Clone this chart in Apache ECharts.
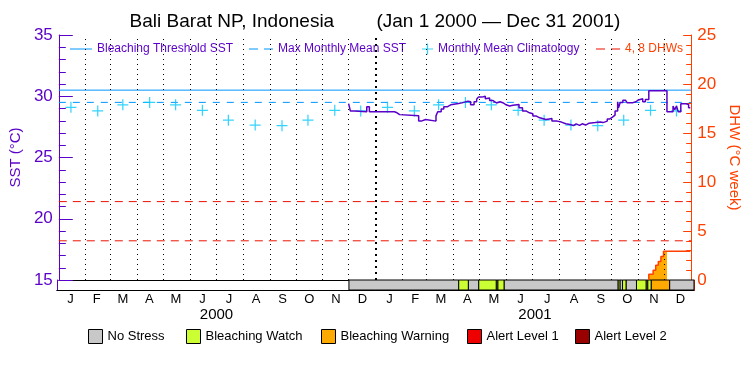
<!DOCTYPE html>
<html>
<head>
<meta charset="utf-8">
<script src="https://cdn.jsdelivr.net/npm/echarts@6/dist/echarts.min.js"></script>
<style>
  html, body { margin: 0; padding: 0; background: #fff; }
  #chart { width: 750px; height: 375px; }
</style>
</head>
<body>
<div id="chart"></div>
<script>
// --- data ---
const mmm = 29.5
const bleachingThreshold = 30.5
const dhwLevels = [4, 8]

const climDates = [
  '2000-01-15', '2000-02-15', '2000-03-15', '2000-04-15', '2000-05-15', '2000-06-15',
  '2000-07-15', '2000-08-15', '2000-09-15', '2000-10-15', '2000-11-15', '2000-12-15',
  '2001-01-15', '2001-02-15', '2001-03-15', '2001-04-15', '2001-05-15', '2001-06-15',
  '2001-07-15', '2001-08-15', '2001-09-15', '2001-10-15', '2001-11-15', '2001-12-15'
]
const climValues = [
  29.1, 28.8, 29.3, 29.5, 29.3, 28.85, 28.05, 27.65, 27.6, 28.05, 28.85, 28.8,
  29.1, 28.8, 29.3, 29.5, 29.3, 28.85, 28.05, 27.65, 27.6, 28.05, 28.85, 28.8
]

const sstDates = [
  '2000-12-01', '2000-12-03', '2000-12-08', '2000-12-22', '2000-12-25',
  '2001-01-23', '2001-01-26', '2001-01-29', '2001-02-20', '2001-02-23', '2001-02-28',
  '2001-03-12', '2001-03-14', '2001-03-18', '2001-03-21', '2001-03-25', '2001-03-29',
  '2001-04-07', '2001-04-11', '2001-04-18', '2001-04-21', '2001-04-25', '2001-04-28',
  '2001-04-30', '2001-05-04', '2001-05-08', '2001-05-10', '2001-05-13', '2001-05-17',
  '2001-05-19', '2001-05-21', '2001-05-25', '2001-05-29', '2001-06-01', '2001-06-05',
  '2001-06-09', '2001-06-16', '2001-06-20', '2001-06-24', '2001-06-28', '2001-07-02',
  '2001-07-06', '2001-07-10', '2001-07-17', '2001-07-21', '2001-07-24', '2001-07-30',
  '2001-08-04', '2001-08-09', '2001-08-14', '2001-08-18', '2001-08-21', '2001-08-25',
  '2001-08-28', '2001-09-01', '2001-09-05', '2001-09-12', '2001-09-18', '2001-09-21',
  '2001-09-26', '2001-09-29', '2001-10-02', '2001-10-05', '2001-10-08', '2001-10-09',
  '2001-10-11', '2001-10-14', '2001-10-17', '2001-10-19', '2001-10-25', '2001-10-29',
  '2001-11-01', '2001-11-06', '2001-11-09', '2001-11-13', '2001-12-04', '2001-12-11',
  '2001-12-13', '2001-12-15', '2001-12-17', '2001-12-20', '2001-12-26', '2001-12-29',
  '2001-12-31'
]
const sstValues = [
  29.4, 28.8, 28.73, 29.15, 28.73,
  28.65, 28.5, 28.4, 27.97, 28.1, 27.97,
  28.4, 28.73, 28.95, 29.14, 29.3, 29.41,
  29.46, 29.6, 29.55, 29.3, 29.55, 29.75,
  29.93, 30.0, 29.8, 29.85, 29.65, 29.5,
  29.45, 29.55, 29.45, 29.3, 29.2, 29.27,
  29.33, 29.06, 28.8, 28.65, 28.57, 28.38,
  28.24, 28.1, 28.15, 28.18, 27.97, 27.89,
  27.75, 27.7, 27.6, 27.75, 27.62, 27.75,
  27.65, 27.8, 27.85, 27.9, 27.85, 27.97,
  28.15, 28.3, 28.46, 28.79, 29.55, 29.06,
  29.5, 29.68, 29.6, 29.46, 29.55, 29.7,
  29.8, 29.55, 29.74, 30.45, 28.73, 29.2,
  28.9, 29.2, 28.73, 29.39, 29.33, 29.06,
  29.06
]

const dhwDates = ['2001-11-13', '2001-11-13', '2001-11-18', '2001-11-21', '2001-11-24', '2001-11-27', '2001-11-30', '2001-12-31']
const dhwValues = [0, 0.58, 1.0, 1.5, 1.9, 2.4, 2.93, 2.93]

const stressNames = ['No Stress', 'Bleaching Watch', 'Bleaching Warning', 'Alert Level 1', 'Alert Level 2']
const stressStart = [
  '2000-12-01', '2001-04-06', '2001-04-17', '2001-04-29', '2001-05-19', '2001-05-21',
  '2001-05-28', '2001-10-06', '2001-10-08', '2001-10-11', '2001-10-15', '2001-10-27',
  '2001-11-07', '2001-11-09', '2001-11-13', '2001-12-04'
]
const stressEnd = [
  '2001-04-06', '2001-04-17', '2001-04-29', '2001-05-19', '2001-05-21', '2001-05-28',
  '2001-10-06', '2001-10-08', '2001-10-11', '2001-10-15', '2001-10-27', '2001-11-07',
  '2001-11-09', '2001-11-13', '2001-12-04', '2002-01-01'
]
const stressLevel = [0, 1, 0, 1, 0, 1, 0, 1, 0, 1, 0, 1, 0, 1, 2, 0]

const monthLetters = ['J', 'F', 'M', 'A', 'M', 'J', 'J', 'A', 'S', 'O', 'N', 'D']
const years = [2000, 2001]

// --- style ---
const PURPLE = '#5a00c8'
const ORANGE = '#ff4000'
const CYAN_LINE = '#0096ff'
const CYAN_MARK = '#00c8ff'
const DHW_RED = '#ee1100'
const stressColors = ['#c8c8c8', '#ccff33', '#ffaa00', '#ee0000', '#990000']
const FONT = 'Liberation Sans'

function ts(s) {
  const p = s.split('-').map(Number)
  return new Date(p[0], p[1] - 1, p[2]).getTime()
}
const xMin = ts('2000-01-01')
const xMax = ts('2002-01-01')

const monthStarts = []
const monthMids = []
years.forEach(y => {
  for (let m = 0; m < 12; m++) {
    const a = new Date(y, m, 1).getTime()
    const b = new Date(y, m + 1, 1).getTime()
    monthMids.push((a + b) / 2)
    if (a > xMin) monthStarts.push(a)
  }
})
const yearMids = years.map(y => (new Date(y, 0, 1).getTime() + new Date(y + 1, 0, 1).getTime()) / 2)

const sstData = sstDates.map((d, i) => [ts(d), sstValues[i]])
const climData = climDates.map((d, i) => [ts(d), climValues[i]])
const dhwData = dhwDates.map((d, i) => [ts(d), dhwValues[i]])
const warnEnd = ts(stressEnd[stressLevel.indexOf(2)])
const dhwFill = dhwData.filter(p => p[0] < warnEnd)
dhwFill.push([warnEnd, dhwFill[dhwFill.length - 1][1]])

const monthLines = monthStarts.map(t => {
  const isYear = new Date(t).getMonth() === 0
  return {
    xAxis: t,
    lineStyle: isYear
      ? { color: '#000', width: 2, type: [2, 4] }
      : { color: '#000', width: 1, type: [1, 4] }
  }
})

function renderStress(params, api) {
  const p0 = api.coord([api.value(0), 1])
  const p1 = api.coord([api.value(1), 0])
  return {
    type: 'rect',
    shape: { x: p0[0], y: p0[1], width: p1[0] - p0[0], height: p1[1] - p0[1] },
    style: { fill: api.visual('color'), stroke: '#000', lineWidth: 1 }
  }
}

const stressSeries = stressNames.map((name, k) => ({
  name,
  type: 'custom',
  xAxisIndex: 1,
  yAxisIndex: 2,
  renderItem: renderStress,
  itemStyle: { color: stressColors[k] },
  encode: { x: [0, 1] },
  silent: true,
  z: 3,
  data: stressStart
    .map((s, i) => [ts(s), ts(stressEnd[i]), stressLevel[i]])
    .filter(r => r[2] === k)
    .map(r => [r[0], r[1]])
}))

const dhwLevelSeries = dhwLevels.map(v => ({
  name: '4, 8 DHWs', type: 'line', xAxisIndex: 0, yAxisIndex: 1,
  symbol: 'none', silent: true, z: 2,
  lineStyle: { color: DHW_RED, width: 1, type: [8, 6] }, itemStyle: { color: DHW_RED },
  data: [[xMin, v], [xMax, v]]
}))

const plusPath = 'path://M4,0H5V4H9V5H5V9H4V5H0V4H4Z'
const solidIcon = 'path://M0,0H22V1H0Z'
const dashIcon = 'path://M0,0H9V1H0Z M15,0H24V1H15Z'

const topLegend = (name, icon, left, width, height, color) => ({
  data: [{ name, icon }], left, top: 43, padding: 0, itemWidth: width, itemHeight: height,
  selectedMode: false,
  textStyle: { color, fontFamily: FONT, fontSize: 12 }
})
const bottomLefts = [88, 186, 321, 467, 575]

const timeAxis = (grid, position, extra) => Object.assign({
  gridIndex: grid, type: 'value', min: xMin, max: xMax, position,
  axisLine: { lineStyle: { color: '#000', width: 1 } },
  axisTick: { show: false }, axisLabel: { show: false }, splitLine: { show: false }
}, extra)

const chart = echarts.init(document.getElementById('chart'))

chart.setOption({
  animation: false,
  backgroundColor: '#fff',
  title: {
    text: 'Bali Barat NP, Indonesia        (Jan 1 2000 \u2014 Dec 31 2001)',
    left: 'center',
    top: 12,
    padding: 0,
    textStyle: { color: '#000', fontFamily: FONT, fontSize: 19, fontWeight: 'normal' }
  },
  legend: [
    topLegend('Bleaching Threshold SST', solidIcon, 70, 22, 2, PURPLE),
    topLegend('Max Monthly Mean SST', dashIcon, 249, 24, 2, PURPLE),
    topLegend('Monthly Mean Climatology', plusPath, 422, 11, 11, PURPLE),
    topLegend('4, 8 DHWs', dashIcon, 596, 24, 2, ORANGE)
  ].concat(stressNames.map((name, k) => ({
    data: [name], left: bottomLefts[k], top: 329, padding: 0,
    itemWidth: 14, itemHeight: 14, icon: 'rect', selectedMode: false,
    itemStyle: { borderColor: '#000', borderWidth: 1 },
    textStyle: { color: '#000', fontFamily: FONT, fontSize: 13 }
  }))),
  grid: [
    { left: 57, right: 56, top: 35, height: 245 },
    { left: 57, right: 56, top: 280, height: 10 }
  ],
  xAxis: [
    timeAxis(0, 'top'),
    timeAxis(1, 'bottom', {
      axisLabel: {
        customValues: monthMids,
        formatter: v => monthLetters[new Date(v).getMonth()],
        color: '#000', fontFamily: FONT, fontSize: 13, margin: 3, hideOverlap: false
      }
    }),
    timeAxis(1, 'top'),
    timeAxis(1, 'bottom', {
      offset: 14,
      axisLine: { show: false },
      axisLabel: {
        customValues: yearMids,
        formatter: v => String(new Date(v).getFullYear()),
        color: '#000', fontFamily: FONT, fontSize: 15, margin: 3
      }
    })
  ],
  yAxis: [
    {
      gridIndex: 0, type: 'value', min: 15, max: 35, interval: 5, position: 'left',
      name: 'SST (\u00b0C)', nameLocation: 'middle', nameGap: 33,
      nameTextStyle: { color: PURPLE, fontFamily: FONT, fontSize: 15 },
      axisLine: { show: true, lineStyle: { color: PURPLE, width: 1 } },
      axisTick: { inside: true, length: 14, lineStyle: { color: PURPLE } },
      minorTick: { show: true, splitNumber: 5, length: 7, lineStyle: { color: PURPLE } },
      axisLabel: { color: PURPLE, fontFamily: FONT, fontSize: 17, margin: 6 },
      splitLine: { show: false }
    },
    {
      gridIndex: 0, type: 'value', min: 0, max: 25, interval: 5, position: 'right',
      name: 'DHW (\u00b0C week)', nameLocation: 'middle', nameGap: 32, nameRotate: -90,
      nameTextStyle: { color: ORANGE, fontFamily: FONT, fontSize: 15 },
      axisLine: { show: true, lineStyle: { color: ORANGE, width: 1 } },
      axisTick: { inside: true, length: 8, lineStyle: { color: ORANGE } },
      minorTick: { show: true, splitNumber: 5, length: 5, lineStyle: { color: ORANGE } },
      axisLabel: { color: ORANGE, fontFamily: FONT, fontSize: 17, margin: 6 },
      splitLine: { show: false }
    },
    {
      gridIndex: 1, type: 'value', min: 0, max: 1, position: 'left',
      axisLine: { show: true, lineStyle: { color: PURPLE } },
      axisTick: { show: false }, axisLabel: { show: false }, splitLine: { show: false }
    },
    {
      gridIndex: 1, type: 'value', min: 0, max: 1, position: 'right',
      axisLine: { show: true, lineStyle: { color: ORANGE } },
      axisTick: { show: false }, axisLabel: { show: false }, splitLine: { show: false }
    }
  ],
  series: [
    {
      name: 'months', type: 'line', xAxisIndex: 0, yAxisIndex: 0, data: [], silent: true, z: 1,
      markLine: { symbol: ['none', 'none'], silent: true, label: { show: false }, data: monthLines }
    },
    {
      name: 'Bleaching Threshold SST', type: 'line', xAxisIndex: 0, yAxisIndex: 0,
      symbol: 'none', silent: true, z: 2,
      lineStyle: { color: CYAN_LINE, width: 1 }, itemStyle: { color: CYAN_LINE },
      data: [[xMin, bleachingThreshold], [xMax, bleachingThreshold]]
    },
    {
      name: 'Max Monthly Mean SST', type: 'line', xAxisIndex: 0, yAxisIndex: 0,
      symbol: 'none', silent: true, z: 2,
      lineStyle: { color: CYAN_LINE, width: 1, type: [7, 7] }, itemStyle: { color: CYAN_LINE },
      data: [[xMin, mmm], [xMax, mmm]]
    },
    {
      name: 'DHW fill', type: 'line', xAxisIndex: 0, yAxisIndex: 1, step: 'end',
      symbol: 'none', silent: true, z: 3,
      lineStyle: { width: 0 }, areaStyle: { color: stressColors[2], opacity: 1 },
      data: dhwFill
    },
    {
      name: 'DHW', type: 'line', xAxisIndex: 0, yAxisIndex: 1, step: 'end',
      symbol: 'none', silent: true, z: 4,
      lineStyle: { color: ORANGE, width: 1.5 },
      data: dhwData
    },
    {
      name: 'Monthly Mean Climatology', type: 'scatter', xAxisIndex: 0, yAxisIndex: 0,
      symbol: plusPath, symbolSize: 11, silent: true, z: 5,
      itemStyle: { color: CYAN_MARK },
      data: climData
    },
    {
      name: 'SST', type: 'line', xAxisIndex: 0, yAxisIndex: 0, step: 'end',
      symbol: 'none', silent: true, z: 6,
      lineStyle: { color: PURPLE, width: 1.5 },
      data: sstData
    }
  ].concat(dhwLevelSeries, stressSeries)
})
</script>
</body>
</html>
